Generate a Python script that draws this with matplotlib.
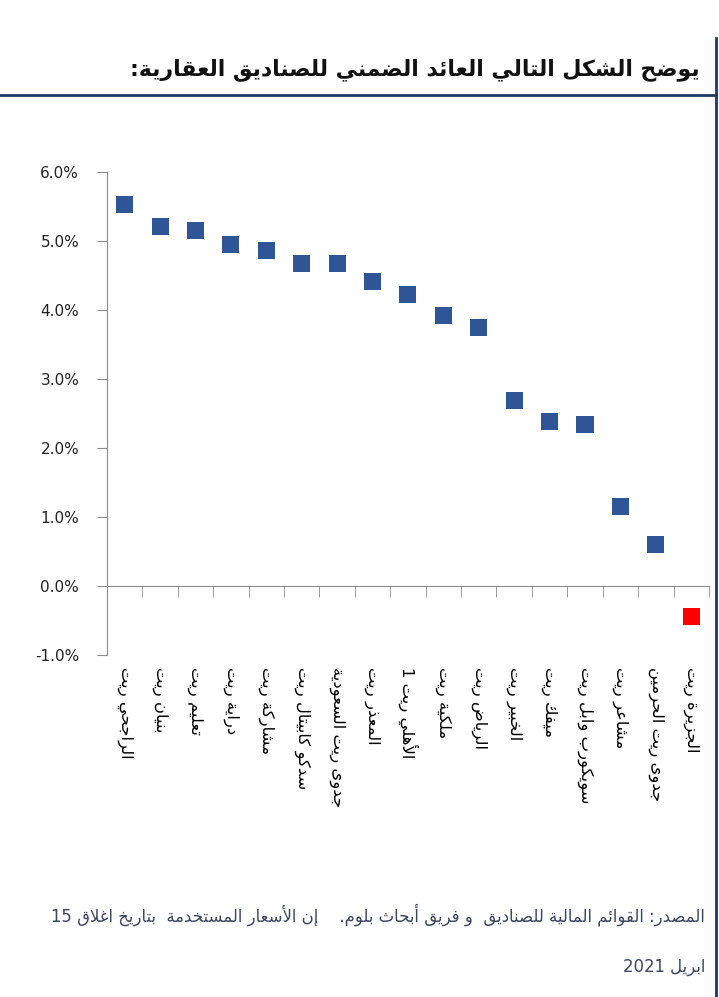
import re
import numpy as np
import matplotlib
matplotlib.use("Agg")
import matplotlib.pyplot as plt
from matplotlib.lines import Line2D
from matplotlib.ticker import FuncFormatter, FixedLocator

# بيانات الرسم
funds = ["الراجحي ريت", "بنيان ريت", "تعليم ريت", "دراية ريت", "مشاركة ريت",
         "سدكو كابيتال ريت", "جدوى ريت السعودية", "المعذر ريت", "الأهلي ريت 1",
         "ملكية ريت", "الرياض ريت", "الخبير ريت", "ميفك ريت",
         "سويكورب وابل ريت", "مشاعر ريت", "جدوى ريت الحرمين", "الجزيرة ريت"]
yields = [5.53, 5.21, 5.15, 4.95, 4.86, 4.67, 4.67, 4.42, 4.22,
          3.92, 3.74, 2.69, 2.38, 2.34, 1.15, 0.60, -0.44]
yticks = [-1, 0, 1, 2, 3, 4, 5, 6]

title = "يوضح الشكل التالي العائد الضمني للصناديق العقارية:"
note1 = "المصدر: القوائم المالية للصناديق  و فريق أبحاث بلوم.    إن الأسعار المستخدمة  بتاريخ اغلاق 15"
note2 = "ابريل 2021"

# تشكيل الحروف العربية يدويا (matplotlib لا يربط الحروف)
spec = [('ء', 0xFE80, 1), ('آ', 0xFE81, 2), ('أ', 0xFE83, 2), ('ؤ', 0xFE85, 2),
        ('إ', 0xFE87, 2), ('ئ', 0xFE89, 4), ('ا', 0xFE8D, 2), ('ب', 0xFE8F, 4),
        ('ة', 0xFE93, 2), ('ت', 0xFE95, 4), ('ث', 0xFE99, 4), ('ج', 0xFE9D, 4),
        ('ح', 0xFEA1, 4), ('خ', 0xFEA5, 4), ('د', 0xFEA9, 2), ('ذ', 0xFEAB, 2),
        ('ر', 0xFEAD, 2), ('ز', 0xFEAF, 2), ('س', 0xFEB1, 4), ('ش', 0xFEB5, 4),
        ('ص', 0xFEB9, 4), ('ض', 0xFEBD, 4), ('ط', 0xFEC1, 4), ('ظ', 0xFEC5, 4),
        ('ع', 0xFEC9, 4), ('غ', 0xFECD, 4), ('ف', 0xFED1, 4), ('ق', 0xFED5, 4),
        ('ك', 0xFED9, 4), ('ل', 0xFEDD, 4), ('م', 0xFEE1, 4), ('ن', 0xFEE5, 4),
        ('ه', 0xFEE9, 4), ('و', 0xFEED, 2), ('ى', 0xFEEF, 2), ('ي', 0xFEF1, 4)]
FORMS = {c: (s, n) for c, s, n in spec}
LAM_ALEF = {'آ': 0xFEF5, 'أ': 0xFEF7, 'إ': 0xFEF9, 'ا': 0xFEFB}


def ar(text):
    toks = []
    i = 0
    while i < len(text):
        c = text[i]
        if c == 'ل' and i + 1 < len(text) and text[i + 1] in LAM_ALEF:
            toks.append(('LA', text[i + 1]))
            i += 2
        else:
            toks.append(c)
            i += 1

    def joins_next(t):
        return (not isinstance(t, tuple)) and t in FORMS and FORMS[t][1] == 4

    def joins_prev(t):
        return isinstance(t, tuple) or (t in FORMS and FORMS[t][1] >= 2)

    out = []
    for k, t in enumerate(toks):
        p = k > 0 and joins_next(toks[k - 1])
        if isinstance(t, tuple):
            out.append(chr(LAM_ALEF[t[1]] + (1 if p else 0)))
            continue
        if t not in FORMS:
            out.append(t)
            continue
        s, nf = FORMS[t]
        nx = nf == 4 and k + 1 < len(toks) and joins_prev(toks[k + 1])
        if nf == 1:
            out.append(chr(s))
        elif nf == 2:
            out.append(chr(s + (1 if p else 0)))
        else:
            if p and nx:
                out.append(chr(s + 3))
            elif p:
                out.append(chr(s + 1))
            elif nx:
                out.append(chr(s + 2))
            else:
                out.append(chr(s))
    vis = ''.join(out)[::-1]
    vis = re.sub(r'[0-9]+', lambda m: m.group(0)[::-1], vis)
    return vis


plt.rcParams['font.family'] = ['DejaVu Sans']

fig = plt.figure(figsize=(7.19, 9.97), dpi=100)
ax = fig.add_axes([0.1488, 0.343, 0.8372, 0.4845])

x = np.arange(len(funds))
colors = ['#2F5597'] * (len(funds) - 1) + ['#FF0000']
ax.scatter(x, yields, marker='s', s=150, c=colors, zorder=3, linewidths=0)

ax.set_xlim(-0.5, len(funds) - 0.5)
ax.set_ylim(-1, 6)

grey = '#8C8C8C'
for s in ['top', 'right']:
    ax.spines[s].set_visible(False)
ax.spines['left'].set_color(grey)
ax.spines['bottom'].set_color(grey)
ax.spines['bottom'].set_position(('data', 0))

ax.yaxis.set_major_locator(FixedLocator(yticks))
ax.yaxis.set_major_formatter(FuncFormatter(lambda v, pos: "%.1f%%" % v))
ax.tick_params(axis='y', length=7, color=grey, labelsize=11, pad=13, labelcolor='#222222')

ax.set_xticks(x)
ax.set_xticklabels([ar(f) for f in funds], rotation=-90, fontsize=11.8,
                   va='top', ha='center')
ax.set_xticks(np.arange(len(funds) + 1) - 0.5, minor=True)
ax.tick_params(axis='x', which='major', length=0, pad=58)
ax.tick_params(axis='x', which='minor', length=8, color=grey)

navy = '#1F3864'
fig.add_artist(Line2D([0, 716 / 719], [1 - 95 / 997] * 2, color=navy, lw=2,
                      transform=fig.transFigure))
fig.add_artist(Line2D([716 / 719] * 2, [0, 1 - 38 / 997], color=navy, lw=2,
                      transform=fig.transFigure))

fig.text(700 / 719, 1 - 70 / 997, ar(title), ha='right', va='center',
         fontsize=15.8, fontweight='bold', color='#111111')
fig.text(705 / 719, 1 - 915 / 997, ar(note1), ha='right', va='center',
         fontsize=11.9, color='#3C4660')
fig.text(705 / 719, 1 - 967 / 997, ar(note2), ha='right', va='center',
         fontsize=11.9, color='#3C4660')

fig.savefig('out.png', dpi=100)
